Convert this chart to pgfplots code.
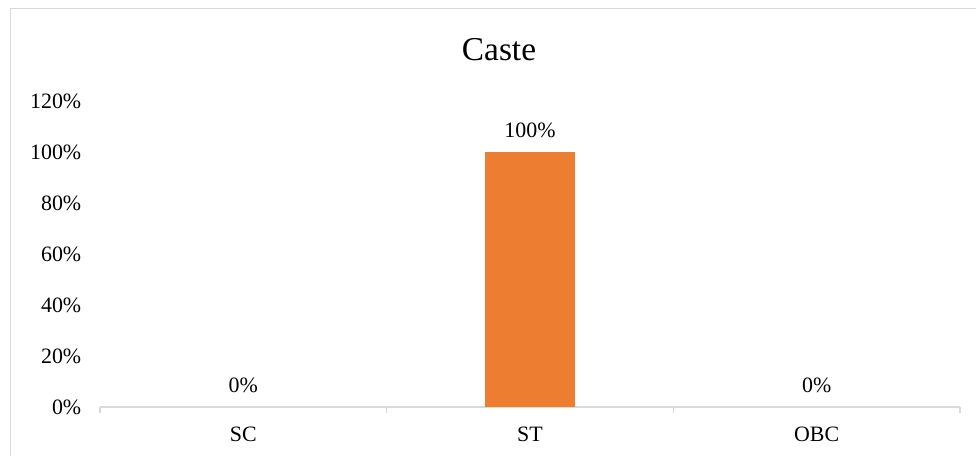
\documentclass[border=0pt]{standalone}
\usepackage{fontspec}
\setmainfont{Liberation Serif}
\usepackage{pgfplots}
\pgfplotsset{compat=1.18}
\definecolor{barorange}{HTML}{ED7D31}
\definecolor{axisgray}{HTML}{D9D9D9}
\begin{document}
\begin{tikzpicture}
% chart frame (cut by the page edge on the right and bottom)
\draw[axisgray, line width=1.5bp] (10.5bp,-20bp) -- (10.5bp,447.5bp) -- (1000bp,447.5bp);
\node at (499bp,406bp) {\fontsize{33.5}{40}\selectfont Caste};
\begin{axis}[
    at={(100bp,49bp)}, anchor=south west,
    scale only axis,
    width=860bp, height=306bp,
    xmin=-0.5, xmax=2.5,
    ymin=0, ymax=120,
    axis x line=bottom, axis y line=left,
    x axis line style={draw=axisgray, line width=1.2bp, -},
    y axis line style={draw=none},
    xtick={0,1,2},
    xticklabels={SC,ST,OBC},
    major x tick style={draw=none},
    minor xtick={-0.5,0.5,1.5,2.5},
    minor x tick style={draw=axisgray, line width=1.2bp},
    minor tick length=6bp,
    tick align=outside,
    ytick={0,20,40,60,80,100,120},
    yticklabel={\pgfmathprintnumber{\tick}\%},
    ytick style={draw=none},
    /pgf/number format/assume math mode=true,
    tick label style={font=\fontsize{22}{26}\selectfont},
    yticklabel style={xshift=-11bp},
    xticklabel style={yshift=-12bp},
    ybar, bar width=90bp, bar shift=0pt,
    nodes near coords={\pgfmathprintnumber{\pgfplotspointmeta}\%},
    nodes near coords style={font=\fontsize{22}{26}\selectfont, yshift=11bp},
]
\addplot[fill=barorange, draw=none] coordinates {(1,100)};
\addplot[fill=none, draw=none] coordinates {(0,0) (2,0)};
\end{axis}
\pgfresetboundingbox
\useasboundingbox (0,0) rectangle (976bp,456bp);
\end{tikzpicture}
\end{document}
